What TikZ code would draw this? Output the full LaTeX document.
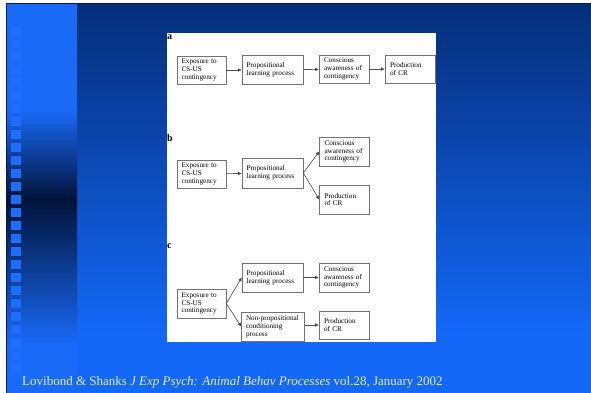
\documentclass[tikz,border=0pt]{standalone}
\usepackage{fontspec}
\setmainfont{Liberation Serif}
\usetikzlibrary{arrows.meta}
\definecolor{leftlight}{HTML}{1A6AF8}
\definecolor{leftdark}{HTML}{011338}
\definecolor{maintop}{HTML}{052E78}
\definecolor{mainbot}{HTML}{1468F8}
\definecolor{sqcol}{HTML}{1C6EFF}
\definecolor{frame}{HTML}{0A1A4A}
\definecolor{foot}{HTML}{E6ECFF}
\tikzset{
  box/.style={draw=black!55, line width=0.6pt, fill=white, rectangle, inner xsep=4.5pt, inner ysep=1pt,
    align=left, font=\fontsize{7.2}{7.8}\selectfont, text=black},
  w49/.style={minimum width=49pt, text width=40pt, minimum height=28pt},
  w61/.style={minimum width=61pt, text width=52pt, minimum height=29pt},
  arr/.style={draw=black!70, line width=0.6pt, -{Triangle[length=3.8pt,width=3.2pt]}},
  lab/.style={font=\bfseries\fontsize{10}{10}\selectfont, anchor=base west, inner sep=0pt},
}
\begin{document}
\begin{tikzpicture}[x=1pt,y=-1pt]
\useasboundingbox (0,0) rectangle (591,393);
% background
\fill[white] (0,0) rectangle (591,393);
\shade[top color=maintop, bottom color=mainbot] (77,4) rectangle (591,335);
\fill[mainbot] (77,334.5) rectangle (591,393);
% left panel
\fill[leftlight] (7,4) rectangle (77,110);
\shade[top color=leftlight, bottom color=leftdark] (7,109.5) rectangle (77,200);
\shade[top color=leftdark, bottom color=leftlight] (7,199.5) rectangle (77,345);
\fill[leftlight] (7,344.5) rectangle (77,393);
\foreach \k in {2,...,28} \fill[sqcol] (11,13*\k) rectangle (21,13*\k+9);
\draw[frame, line width=1pt] (6.5,393) -- (6.5,3.5) -- (591,3.5);
% white figure area
\fill[white] (167,33) rectangle (436,342);
% panel a
\node[lab] (la) at (167,40) {a};
\node[box,w49] (a1) at (201.5,70) {Exposure to\\CS-US\\contingency};
\node[box,w61] (a2) at (272.5,70) {Propositional\\learning process};
\node[box,w49,minimum width=50pt] (a3) at (344,69) {Conscious\\awareness of\\contingency};
\node[box,w49,minimum width=50pt] (a4) at (410,69) {Production\\of CR};
\draw[arr] (a1) -- (a2);
\draw[arr] (a2) -- (a3);
\draw[arr] (a3) -- (a4);
% panel b
\node[lab] (lb) at (167,142) {b};
\node[box,w49] (b1) at (201.5,174) {Exposure to\\CS-US\\contingency};
\node[box,w61,minimum height=30pt] (b2) at (272.5,173) {Propositional\\learning process};
\node[box,w49,minimum width=50pt,minimum height=29pt] (b3) at (344.5,151.5) {Conscious\\awareness of\\contingency};
\node[box,w49,minimum width=50pt,minimum height=29pt] (b4) at (344.5,199.5) {Production\\of CR};
\draw[arr] (b1) -- (b2);
\draw[arr] (b2.east) -- (b3.west);
\draw[arr] (b2.east) -- (b4.west);
% panel c
\node[lab] (lc) at (167,248) {c};
\node[box,w49,minimum height=29pt] (c1) at (201.5,303.5) {Exposure to\\CS-US\\contingency};
\node[box,w61] (c2) at (272.5,277.5) {Propositional\\learning process};
\node[box,w49,minimum width=50pt,minimum height=29pt] (c3) at (344,277.5) {Conscious\\awareness of\\contingency};
\node[box,w61,minimum width=62pt,text width=54pt] (c4) at (273,326.5) {Non-propositional\\conditioning\\process};
\node[box,w49,minimum width=50pt] (c5) at (344,325) {Production\\of CR};
\draw[arr] (c1.east) -- (c2.west);
\draw[arr] (c1.east) -- (c4.west);
\draw[arr] (c2) -- (c3);
\draw[arr] (c4.east |- c5.west) -- (c5.west);
% footer
\node[anchor=base west, inner sep=0pt, text=foot, font=\fontsize{13}{13}\selectfont] (ft) at (22,385)
  {Lovibond \& Shanks \textit{J Exp Psych: Animal Behav Processes} vol.28, January 2002};
\end{tikzpicture}
\end{document}
